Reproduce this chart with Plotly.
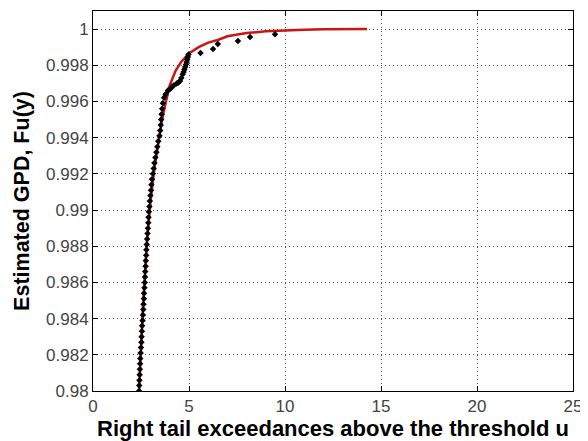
import plotly.graph_objects as go

# empirical exceedances (black points)
emp_x = [2.40, 2.41, 2.42, 2.43, 2.44, 2.45, 2.46, 2.48, 2.50, 2.52,
         2.53, 2.55, 2.56, 2.58, 2.60, 2.62, 2.63, 2.65, 2.66, 2.68,
         2.70, 2.71, 2.72, 2.74, 2.75, 2.77, 2.78, 2.80, 2.82, 2.84,
         2.86, 2.88, 2.89, 2.91, 2.94, 2.96, 2.99, 3.02, 3.04, 3.07,
         3.12, 3.16, 3.20, 3.25, 3.30, 3.35, 3.40, 3.46, 3.50, 3.53,
         3.55, 3.57, 3.60, 3.64, 3.70, 3.78, 3.90, 4.00, 4.09, 4.20,
         4.36, 4.45, 4.53, 4.60, 4.67, 4.72, 4.76, 4.80, 4.84, 4.88,
         4.91, 4.94, 4.97, 5.60, 6.25, 6.50, 7.55, 8.18, 9.48]
emp_y = [0.9800, 0.9803, 0.9806, 0.9809, 0.9812, 0.9815, 0.9818, 0.9821, 0.9824, 0.9827,
         0.9830, 0.9833, 0.9836, 0.9839, 0.9842, 0.9845, 0.9848, 0.9851, 0.9854, 0.9857,
         0.9860, 0.9863, 0.9866, 0.9869, 0.9872, 0.9875, 0.9878, 0.9881, 0.9884, 0.9887,
         0.9890, 0.9893, 0.9896, 0.9899, 0.9902, 0.9905, 0.9908, 0.9911, 0.9914, 0.9917,
         0.9920, 0.9923, 0.9926, 0.9929, 0.9932, 0.9935, 0.9938, 0.9941, 0.9944, 0.9947,
         0.9950, 0.9953, 0.9956, 0.9959, 0.9962, 0.9964, 0.9966, 0.99668, 0.99677, 0.99688,
         0.99699, 0.99705, 0.99713, 0.99730, 0.99750, 0.99763, 0.99777, 0.99790, 0.99805, 0.99818,
         0.99832, 0.99846, 0.99860, 0.99868, 0.99890, 0.99917, 0.99934, 0.99956, 0.99972]

# fitted GPD (red line)
fit_x = [2.40, 2.60, 2.80, 3.00, 3.20, 3.40, 3.60, 3.80, 4.00, 4.30, 4.60, 5.00,
         5.50, 6.00, 6.50, 7.00, 7.50, 8.00, 9.00, 10.0, 11.0, 12.0, 13.0, 14.27]
fit_y = [0.9800, 0.9846, 0.9881, 0.9905, 0.9923, 0.9937, 0.9950, 0.9960, 0.9969, 0.9977,
         0.9982, 0.99865, 0.9990, 0.99925, 0.9994, 0.9996, 0.9997, 0.99978, 0.99988,
         0.99994, 0.99997, 0.99999, 1.0, 1.0]

y_ticks = [0.98, 0.982, 0.984, 0.986, 0.988, 0.99, 0.992, 0.994, 0.996, 0.998, 1.0]
y_labels = ['0.98', '0.982', '0.984', '0.986', '0.988', '0.99', '0.992', '0.994', '0.996', '0.998', '1']
x_ticks = [0, 5, 10, 15, 20, 25]

fig = go.Figure()

fig.add_trace(go.Scatter(
    x=fit_x, y=fit_y, mode='lines',
    line=dict(color='#cc1414', width=2.5),
    showlegend=False
))

fig.add_trace(go.Scatter(
    x=emp_x, y=emp_y, mode='markers',
    marker=dict(symbol='diamond', size=5, color='black'),
    showlegend=False
))

axis_common = dict(
    showline=True, linecolor='black', linewidth=1, mirror='ticks',
    ticks='inside', ticklen=5, tickcolor='black',
    showgrid=True, gridcolor='#555555', griddash='1px,3px', gridwidth=1,
    zeroline=False, automargin=False,
    tickfont=dict(family='Arial, Liberation Sans', size=17, color='#444444'),
)

# page body has an 8px margin, so the figure is sized to fit inside the window
fig.update_layout(
    width=580, height=433,
    paper_bgcolor='white', plot_bgcolor='white',
    margin=dict(l=85, r=15, t=3, b=50),
    xaxis=dict(
        range=[0, 25], tickvals=x_ticks,
        title=dict(text='<b>Right tail exceedances above the threshold u</b>',
                   font=dict(family='Arial, Liberation Sans', size=22, color='black'),
                   standoff=0),
        **axis_common
    ),
    yaxis=dict(
        range=[0.98, 1.001], tickvals=y_ticks, ticktext=y_labels,
        title=dict(text='<b>Estimated GPD, Fu(y)</b>',
                   font=dict(family='Arial, Liberation Sans', size=21.5, color='black'),
                   standoff=10),
        **axis_common
    ),
)

fig.write_html("out.html")
